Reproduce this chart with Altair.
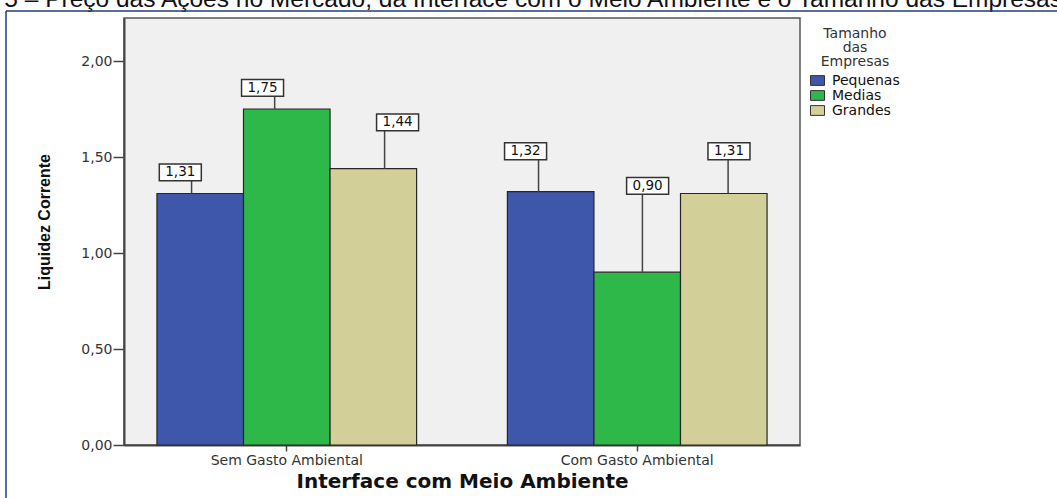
import altair as alt
import pandas as pd

# ---- data ----
groups = ["Sem Gasto Ambiental", "Com Gasto Ambiental"]
sizes = ["Pequenas", "Medias", "Grandes"]
sem_values = [1.31, 1.75, 1.44]
com_values = [1.32, 0.90, 1.31]
colors = ["#3E57AB", "#2EB84A", "#D3CF99"]

# ---- callout placement (style, not data) ----
# how far above each bar its callout box sits (data units)
label_lift = [[0.11, 0.11, 0.24], [0.21, 0.45, 0.22]]
# horizontal shift of callout box / leader line from bar centre, in bar widths
box_shift = [[-0.23, -0.28, 0.28], [-0.29, 0.12, 0.06]]
line_shift = [[-0.10, -0.14, 0.13], [-0.14, 0.06, 0.05]]

caption = "Gráfico 5 – Preço das Ações no Mercado, da Interface com o Meio Ambiente e o Tamanho das Empresas"

rows = []
for gi, (g, vals) in enumerate(zip(groups, [sem_values, com_values])):
    for si, (s, v) in enumerate(zip(sizes, vals)):
        rows.append({
            "group": g,
            "size": s,
            "value": v,
            "label_y": v + label_lift[gi][si],
            "box_pos": si + 0.5 + box_shift[gi][si],
            "line_pos": si + 0.5 + line_shift[gi][si],
            "label": f"{v:.2f}".replace(".", ","),
        })
df = pd.DataFrame(rows)

W, H = 676, 427
YMAX = 2.224
FONT = "DejaVu Sans"

x_enc = alt.X(
    "group:N",
    sort=groups,
    scale=alt.Scale(paddingInner=0.259, paddingOuter=0.094),
    axis=alt.Axis(
        title="Interface com Meio Ambiente",
        titleFont=FONT,
        titleFontSize=20,
        titleFontWeight="bold",
        titleColor="#111",
        titlePadding=4,
        labelAngle=0,
        labelFont=FONT,
        labelFontSize=14,
        labelColor="#333",
        labelPadding=2,
        tickSize=6,
        tickColor="#444",
        tickWidth=1.5,
        domainColor="#444",
        domainWidth=2,
    ),
)
y_scale = alt.Scale(domain=[0, YMAX], nice=False, zero=True)
off_scale = alt.Scale(domain=[0, 3], nice=False, zero=False)

bars = alt.Chart(df).mark_bar(stroke="#262626", strokeWidth=1.2).encode(
    x=x_enc,
    xOffset=alt.XOffset("size:N", sort=sizes, scale=alt.Scale(paddingInner=0, paddingOuter=0)),
    y=alt.Y(
        "value:Q",
        scale=y_scale,
        axis=alt.Axis(
            title="Liquidez Corrente",
            titleFont="Liberation Sans",
            titleFontSize=16,
            titleFontWeight="bold",
            titleColor="#111",
            titleX=-72,
            titleY=H / 2 - 10,
            values=[0, 0.5, 1, 1.5, 2],
            labelExpr="replace(format(datum.value, '.2f'), '.', ',')",
            labelFont=FONT,
            labelFontSize=14,
            labelColor="#333",
            labelPadding=1,
            tickSize=11,
            tickColor="#444",
            tickWidth=1.5,
            domainColor="#444",
            domainWidth=2,
            grid=False,
        ),
    ),
    color=alt.Color(
        "size:N",
        sort=sizes,
        scale=alt.Scale(domain=sizes, range=colors),
        legend=alt.Legend(
            title=["Tamanho", "das", "Empresas"],
            titleFont=FONT,
            titleFontSize=14,
            titleFontWeight="normal",
            titleColor="#333",
            titleAlign="center",
            titleAnchor="middle",
            titleLineHeight=14,
            titlePadding=4,
            labelFont=FONT,
            labelFontSize=14,
            labelColor="#111",
            labelOffset=7,
            symbolType="M-1,-0.7L1,-0.7L1,0.7L-1,0.7Z",
            symbolSize=196,
            symbolStrokeColor="#333",
            symbolStrokeWidth=1,
            symbolOpacity=1,
            rowPadding=-3,
            orient="none",
            legendX=686,
            legendY=9,
        ),
    ),
)

lab = alt.Chart(df).encode(x=alt.X("group:N", sort=groups))

leaders = lab.mark_rule(color="#444", strokeWidth=1.5).encode(
    xOffset=alt.XOffset("line_pos:Q", scale=off_scale),
    y=alt.Y("value:Q", scale=y_scale),
    y2="label_y:Q",
)

boxes = lab.mark_point(
    shape="M-1,-0.4L1,-0.4L1,0.4L-1,0.4Z",
    size=1764,
    filled=True,
    fill="white",
    stroke="#333",
    strokeWidth=1.5,
    opacity=1,
).encode(
    xOffset=alt.XOffset("box_pos:Q", scale=off_scale),
    y=alt.Y("label_y:Q", scale=y_scale),
)

texts = lab.mark_text(font=FONT, fontSize=13.5, color="#111", baseline="middle").encode(
    xOffset=alt.XOffset("box_pos:Q", scale=off_scale),
    y=alt.Y("label_y:Q", scale=y_scale),
    text="label:N",
)

one = pd.DataFrame({"t": [caption]})
cap = alt.Chart(one).mark_text(
    font="Liberation Sans", fontSize=24.5, color="#111", align="right", baseline="alphabetic"
).encode(text="t:N", x=alt.value(938), y=alt.value(-11))

top_line = alt.Chart(one).mark_rule(color="#1F3C7C", strokeWidth=1.5).encode(
    x=alt.value(-118), x2=alt.value(940), y=alt.value(-7)
)
left_line = alt.Chart(one).mark_rule(color="#1F3C7C", strokeWidth=1.5).encode(
    x=alt.value(-118), y=alt.value(-7), y2=alt.value(H + 60)
)

chart = alt.layer(bars, leaders, boxes, texts, cap, top_line, left_line).resolve_scale(
    xOffset="independent"
).properties(
    width=W,
    height=H,
    autosize=alt.AutoSizeParams(type="none"),
    padding={"left": 124, "top": 18, "right": 257, "bottom": 53},
    background="white",
).configure_view(
    fill="#F0F0F0", stroke="#555", strokeWidth=1.5
)

chart.save("out.html", embed_options={"renderer": "svg", "actions": False})
